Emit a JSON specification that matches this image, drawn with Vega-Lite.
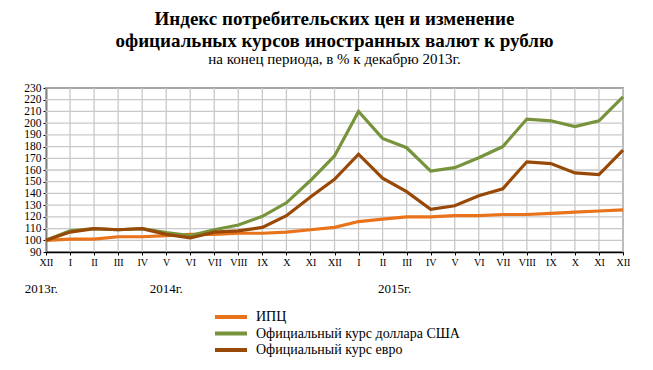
{
  "$schema": "https://vega.github.io/schema/vega-lite/v6.json",
  "width": 577,
  "height": 164,
  "autosize": {"type": "none"},
  "padding": {"left": 46, "top": 88, "right": 30, "bottom": 118},
  "background": "white",
  "title": {
    "text": ["Индекс потребительских цен и изменение", "официальных курсов иностранных валют к рублю"],
    "subtitle": "на конец периода, в % к декабрю 2013г.",
    "anchor": "middle",
    "offset": 15
  },
  "config": {
    "font": "Liberation Serif",
    "title": {
      "font": "Liberation Serif",
      "fontSize": 19,
      "fontWeight": "bold",
      "color": "black",
      "lineHeight": 22,
      "subtitleFont": "Liberation Serif",
      "subtitleFontSize": 15,
      "subtitleColor": "black",
      "subtitlePadding": 1
    },
    "view": {"stroke": "#a6a6a6", "strokeWidth": 2},
    "axis": {
      "labelFont": "Liberation Serif",
      "labelColor": "black",
      "domainColor": "black",
      "domainWidth": 1.5,
      "tickColor": "black",
      "labelOverlap": false
    },
    "legend": {"labelFont": "Liberation Serif", "labelLimit": 0}
  },
  "datasets": {
    "series": [
      {"t": 0, "s": "ИПЦ", "v": 100}, {"t": 1, "s": "ИПЦ", "v": 101}, {"t": 2, "s": "ИПЦ", "v": 101}, {"t": 3, "s": "ИПЦ", "v": 103}, {"t": 4, "s": "ИПЦ", "v": 103}, {"t": 5, "s": "ИПЦ", "v": 104}, {"t": 6, "s": "ИПЦ", "v": 105}, {"t": 7, "s": "ИПЦ", "v": 105}, {"t": 8, "s": "ИПЦ", "v": 106}, {"t": 9, "s": "ИПЦ", "v": 106}, {"t": 10, "s": "ИПЦ", "v": 107}, {"t": 11, "s": "ИПЦ", "v": 109}, {"t": 12, "s": "ИПЦ", "v": 111}, {"t": 13, "s": "ИПЦ", "v": 116}, {"t": 14, "s": "ИПЦ", "v": 118}, {"t": 15, "s": "ИПЦ", "v": 120}, {"t": 16, "s": "ИПЦ", "v": 120}, {"t": 17, "s": "ИПЦ", "v": 121}, {"t": 18, "s": "ИПЦ", "v": 121}, {"t": 19, "s": "ИПЦ", "v": 122}, {"t": 20, "s": "ИПЦ", "v": 122}, {"t": 21, "s": "ИПЦ", "v": 123}, {"t": 22, "s": "ИПЦ", "v": 124}, {"t": 23, "s": "ИПЦ", "v": 125}, {"t": 24, "s": "ИПЦ", "v": 126},
      {"t": 0, "s": "Официальный курс доллара США", "v": 100}, {"t": 1, "s": "Официальный курс доллара США", "v": 108}, {"t": 2, "s": "Официальный курс доллара США", "v": 110}, {"t": 3, "s": "Официальный курс доллара США", "v": 109}, {"t": 4, "s": "Официальный курс доллара США", "v": 110}, {"t": 5, "s": "Официальный курс доллара США", "v": 106.5}, {"t": 6, "s": "Официальный курс доллара США", "v": 104}, {"t": 7, "s": "Официальный курс доллара США", "v": 109}, {"t": 8, "s": "Официальный курс доллара США", "v": 113}, {"t": 9, "s": "Официальный курс доллара США", "v": 120.5}, {"t": 10, "s": "Официальный курс доллара США", "v": 132}, {"t": 11, "s": "Официальный курс доллара США", "v": 151}, {"t": 12, "s": "Официальный курс доллара США", "v": 172}, {"t": 13, "s": "Официальный курс доллара США", "v": 210}, {"t": 14, "s": "Официальный курс доллара США", "v": 187}, {"t": 15, "s": "Официальный курс доллара США", "v": 179}, {"t": 16, "s": "Официальный курс доллара США", "v": 159}, {"t": 17, "s": "Официальный курс доллара США", "v": 162}, {"t": 18, "s": "Официальный курс доллара США", "v": 170.5}, {"t": 19, "s": "Официальный курс доллара США", "v": 180}, {"t": 20, "s": "Официальный курс доллара США", "v": 203.5}, {"t": 21, "s": "Официальный курс доллара США", "v": 202}, {"t": 22, "s": "Официальный курс доллара США", "v": 197}, {"t": 23, "s": "Официальный курс доллара США", "v": 202}, {"t": 24, "s": "Официальный курс доллара США", "v": 222.5},
      {"t": 0, "s": "Официальный курс евро", "v": 100}, {"t": 1, "s": "Официальный курс евро", "v": 107}, {"t": 2, "s": "Официальный курс евро", "v": 110}, {"t": 3, "s": "Официальный курс евро", "v": 109}, {"t": 4, "s": "Официальный курс евро", "v": 110}, {"t": 5, "s": "Официальный курс евро", "v": 105}, {"t": 6, "s": "Официальный курс евро", "v": 102}, {"t": 7, "s": "Официальный курс евро", "v": 107}, {"t": 8, "s": "Официальный курс евро", "v": 108}, {"t": 9, "s": "Официальный курс евро", "v": 111}, {"t": 10, "s": "Официальный курс евро", "v": 121}, {"t": 11, "s": "Официальный курс евро", "v": 137}, {"t": 12, "s": "Официальный курс евро", "v": 152}, {"t": 13, "s": "Официальный курс евро", "v": 173.5}, {"t": 14, "s": "Официальный курс евро", "v": 153}, {"t": 15, "s": "Официальный курс евро", "v": 141.5}, {"t": 16, "s": "Официальный курс евро", "v": 126.5}, {"t": 17, "s": "Официальный курс евро", "v": 129.5}, {"t": 18, "s": "Официальный курс евро", "v": 138}, {"t": 19, "s": "Официальный курс евро", "v": 144}, {"t": 20, "s": "Официальный курс евро", "v": 167}, {"t": 21, "s": "Официальный курс евро", "v": 165.5}, {"t": 22, "s": "Официальный курс евро", "v": 157.5}, {"t": 23, "s": "Официальный курс евро", "v": 156}, {"t": 24, "s": "Официальный курс евро", "v": 177}
    ],
    "months": [
      {"t": 0}, {"t": 1}, {"t": 2}, {"t": 3}, {"t": 4}, {"t": 5}, {"t": 6}, {"t": 7}, {"t": 8}, {"t": 9}, {"t": 10}, {"t": 11}, {"t": 12},
      {"t": 13}, {"t": 14}, {"t": 15}, {"t": 16}, {"t": 17}, {"t": 18}, {"t": 19}, {"t": 20}, {"t": 21}, {"t": 22}, {"t": 23}, {"t": 24}
    ],
    "levels": [
      {"v": 100}, {"v": 110}, {"v": 120}, {"v": 130}, {"v": 140}, {"v": 150}, {"v": 160}, {"v": 170}, {"v": 180}, {"v": 190}, {"v": 200}, {"v": 210}, {"v": 220}
    ],
    "years": [
      {"t": -0.2, "v": 58, "label": "2013г."},
      {"t": 5, "v": 58, "label": "2014г."},
      {"t": 14.5, "v": 58, "label": "2015г."}
    ]
  },
  "layer": [
    {
      "data": {"name": "months"},
      "mark": {"type": "rule", "color": "#c8c8c8", "strokeWidth": 1.3, "zindex": 1},
      "encoding": {
        "x": {
          "field": "t", "type": "quantitative",
          "scale": {"domain": [0, 24], "nice": false, "zero": false},
          "axis": {
            "title": null, "grid": false, "tickCount": 24,
            "labelExpr": "['XII','I','II','III','IV','V','VI','VII','VIII','IX','X','XI'][datum.value % 12]",
            "labelFontSize": 10, "labelPadding": 2, "tickSize": 3, "labelFlush": false, "labelOverlap": false
          }
        }
      }
    },
    {
      "data": {"name": "levels"},
      "mark": {"type": "rule", "color": "#c8c8c8", "strokeWidth": 1.3, "zindex": 1},
      "encoding": {
        "y": {
          "field": "v", "type": "quantitative",
          "scale": {"domain": [90, 230], "nice": false, "zero": false},
          "axis": {
            "title": null, "grid": false, "tickCount": 14,
            "labelFontSize": 11.5, "tickSize": 3, "labelPadding": 2, "labelOverlap": false
          }
        }
      }
    },
    {
      "data": {"name": "series"},
      "mark": {"type": "line", "strokeWidth": 3.2, "strokeJoin": "miter", "zindex": 2},
      "encoding": {
        "x": {
          "field": "t", "type": "quantitative",
          "scale": {"domain": [0, 24], "nice": false, "zero": false},
          "axis": {
            "title": null, "grid": false, "tickCount": 24,
            "labelExpr": "['XII','I','II','III','IV','V','VI','VII','VIII','IX','X','XI'][datum.value % 12]",
            "labelFontSize": 10, "labelPadding": 2, "tickSize": 3, "labelFlush": false, "labelOverlap": false
          }
        },
        "y": {
          "field": "v", "type": "quantitative",
          "scale": {"domain": [90, 230], "nice": false, "zero": false},
          "axis": {
            "title": null, "grid": false, "tickCount": 14,
            "labelFontSize": 11.5, "tickSize": 3, "labelPadding": 2, "labelOverlap": false
          }
        },
        "color": {
          "field": "s", "type": "nominal",
          "scale": {
            "domain": ["ИПЦ", "Официальный курс доллара США", "Официальный курс евро"],
            "range": ["#e8731a", "#77933c", "#984807"]
          },
          "legend": {
            "title": null,
            "orient": "none",
            "legendX": 178,
            "legendY": 222,
            "padding": 0,
            "symbolType": "M-3.2,0H3.2",
            "symbolSize": 100,
            "symbolStrokeWidth": 4,
            "labelFontSize": 14,
            "labelColor": "black",
            "labelFont": "Liberation Serif",
            "labelLimit": 0,
            "rowPadding": 0.5,
            "labelOffset": 18
          }
        }
      }
    },
    {
      "data": {"name": "years"},
      "mark": {"type": "text", "font": "Liberation Serif", "fontSize": 13, "color": "black", "baseline": "middle", "zindex": 2},
      "encoding": {
        "x": {
          "field": "t", "type": "quantitative",
          "scale": {"domain": [0, 24], "nice": false, "zero": false},
          "axis": {
            "title": null, "grid": false, "tickCount": 24,
            "labelExpr": "['XII','I','II','III','IV','V','VI','VII','VIII','IX','X','XI'][datum.value % 12]",
            "labelFontSize": 10, "labelPadding": 2, "tickSize": 3, "labelFlush": false, "labelOverlap": false
          }
        },
        "y": {
          "field": "v", "type": "quantitative",
          "scale": {"domain": [90, 230], "nice": false, "zero": false},
          "axis": {
            "title": null, "grid": false, "tickCount": 14,
            "labelFontSize": 11.5, "tickSize": 3, "labelPadding": 2, "labelOverlap": false
          }
        },
        "text": {"field": "label"}
      }
    }
  ]
}
